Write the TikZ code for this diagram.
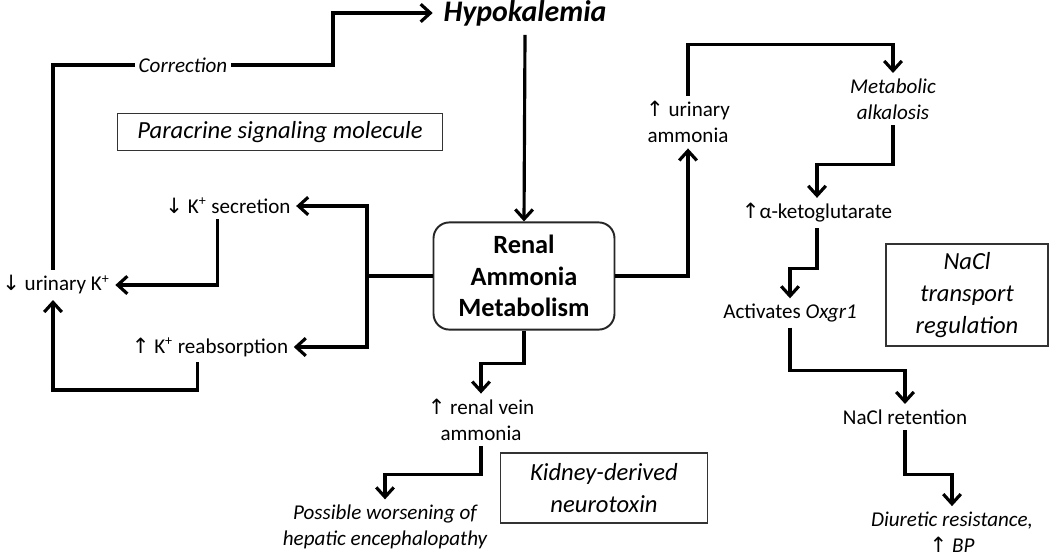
\documentclass[tikz,border=0pt]{standalone}
\usepackage{fontspec}
\setmainfont{Carlito}
\newfontfamily\arrowFont{DejaVu Sans}
\usetikzlibrary{positioning,arrows.meta}
\tikzstyle{diagram} = [x=0.02cm, y=-0.02cm]
\tikzstyle{flowLine} = [line width=1.8pt]
\tikzstyle{flowArrow} = [flowLine, -{Straight Barb[length=5.5pt,width=10pt]}]
\tikzstyle{plainText} = [font=\fontsize{12}{14.8}\selectfont, align=center, inner sep=3pt]
\tikzstyle{italicText} = [plainText, font=\fontsize{12}{14.8}\selectfont\itshape]
\tikzstyle{noteBox} = [draw=black!80, line width=0.8pt, font=\fontsize{14}{18}\selectfont\itshape, align=center]
\tikzstyle{centerBox} = [draw=black!85, line width=1.1pt, rounded corners=9pt, font=\fontsize{15}{18}\selectfont\bfseries, align=center, minimum width=103pt, minimum height=61pt]
\newcommand{\upArrow}{{\arrowFont\fontsize{12}{12}\selectfont ↑}}
\newcommand{\downArrow}{{\arrowFont\fontsize{12}{12}\selectfont ↓}}

\begin{document}
\begin{tikzpicture}[diagram]
    \useasboundingbox (0,0) rectangle (1050,555);
    \node[font=\fontsize{17}{20}\selectfont\bfseries\itshape, inner xsep=6pt, inner ysep=5pt] (hypo) at (525,13) {Hypokalemia};
    \node[noteBox, minimum width=185pt, minimum height=21pt] (paracrine) at (280,132) {Paracrine signaling molecule};
    \node[centerBox] (renal) at (524,276) {Renal\\Ammonia\\Metabolism};
    \node[plainText] (secretion) at (228,206) {\downArrow\ K\textsuperscript{+} secretion};
    \node[plainText] (reabsorption) at (210,347) {\upArrow\ K\textsuperscript{+} reabsorption};
    \node[plainText] (urinaryK) at (56,285) {\downArrow\ urinary K\textsuperscript{+}};
    \node[italicText, inner sep=2pt] (correction) at (183,65) {Correction};
    \node[plainText] (urinaryAmm) at (688,122) {\upArrow\ urinary\\ammonia};
    \node[italicText] (alkalosis) at (893,99) {Metabolic\\alkalosis};
    \node[plainText] (ketoglut) at (817,213) {\upArrow α-ketoglutarate};
    \node[plainText] (oxgr) at (790,313) {Activates \textit{Oxgr1}};
    \node[noteBox, minimum width=92pt, minimum height=58pt] (naclBox) at (967,295) {NaCl\\transport\\regulation};
    \node[plainText] (naclRet) at (905,417) {NaCl retention};
    \node[italicText] (diuretic) at (952,532) {Diuretic resistance,\\\upArrow\ BP};
    \node[plainText] (renalVein) at (481,420) {\upArrow\ renal vein\\ammonia};
    \node[italicText] (worsening) at (385,527) {Possible worsening of\\hepatic encephalopathy};
    \node[noteBox, minimum width=118pt, minimum height=40pt] (kidneyBox) at (604,488) {Kidney-derived\\neurotoxin};
    \coordinate (leftSplit) at (367,276);
    \coordinate (reabBend) at (53,390);
    \coordinate (corrBend) at (333,65);
    \draw[flowLine] (urinaryK.north -| reabBend) |- (correction.west);
    \draw[flowArrow] (correction.east) -- (corrBend) |- (hypo.west);
    \draw[flowArrow] (hypo.south) -- (renal.north);
    \draw[flowLine] (renal.west) -- (leftSplit);
    \draw[flowArrow] (leftSplit) |- (secretion.east);
    \draw[flowArrow] (leftSplit) |- (reabsorption.east);
    \draw[flowArrow] ([xshift=-6pt]secretion.south) |- (urinaryK.east);
    \draw[flowArrow] ([xshift=-7pt]reabsorption.south) |- (reabBend) -- (reabBend |- urinaryK.south);
    \draw[flowArrow] (renal.east) -| (urinaryAmm.south);
    \draw[flowArrow] (urinaryAmm.north) |- ([yshift=16pt]alkalosis.north) -- (alkalosis.north);
    \draw[flowArrow] (alkalosis.south) |- ([yshift=19pt]ketoglut.north) -- (ketoglut.north);
    \draw[flowArrow] (ketoglut.south) |- ([yshift=17pt]oxgr.north) -- (oxgr.north);
    \draw[flowArrow] (oxgr.south) |- ([yshift=19pt]naclRet.north) -- (naclRet.north);
    \draw[flowArrow] (naclRet.south) |- ([yshift=18pt]diuretic.north) -- (diuretic.north);
    \draw[flowArrow] (renal.south) |- ([yshift=17pt]renalVein.north) -- (renalVein.north);
    \draw[flowArrow] (renalVein.south) |- ([yshift=14pt]worsening.north) -- (worsening.north);
\end{tikzpicture}
\end{document}
